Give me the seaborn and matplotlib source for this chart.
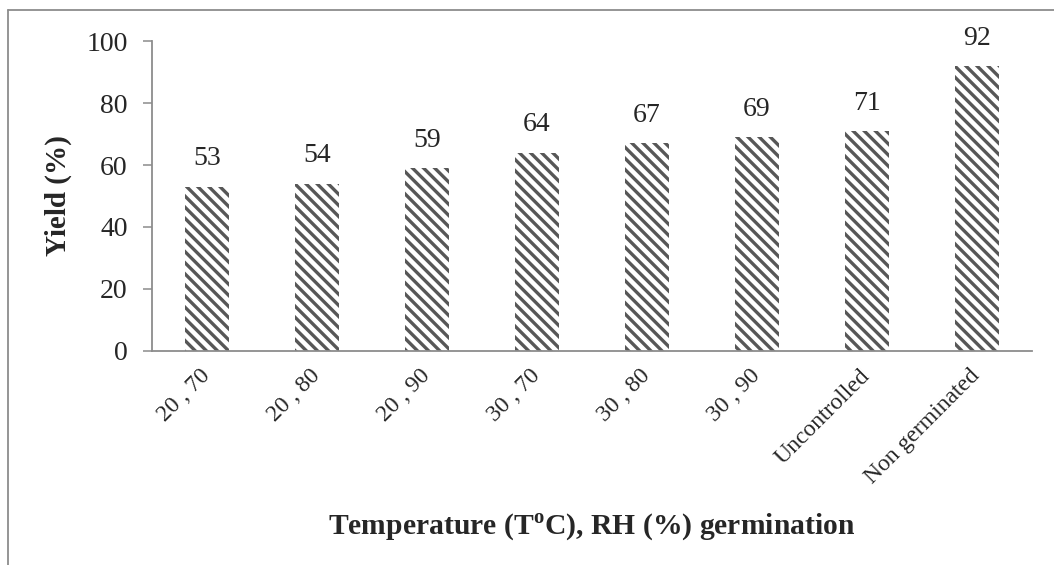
import matplotlib
matplotlib.use("Agg")
import matplotlib.pyplot as plt
import seaborn as sns
from matplotlib.lines import Line2D

# --- data ---
categories = ["20 , 70", "20 , 80", "20 , 90", "30 , 70", "30 , 80", "30 , 90",
              "Uncontrolled", "Non germinated"]
yield_pct = [53, 54, 59, 64, 67, 69, 71, 92]
y_ticks = [0, 20, 40, 60, 80, 100]

sns.set_style("white")
plt.rcParams["font.family"] = ["Liberation Serif", "DejaVu Serif"]
plt.rcParams["mathtext.fontset"] = "custom"
plt.rcParams["mathtext.rm"] = "Liberation Serif"
plt.rcParams["mathtext.bf"] = "Liberation Serif:bold"
plt.rcParams["hatch.linewidth"] = 2.4
plt.rcParams["hatch.color"] = "#575757"

spine_col = "#8c8c8c"

fig = plt.figure(figsize=(10.54, 5.65), dpi=100)
ax = fig.add_axes([0.1442, 0.3788, 0.8349, 0.5486])

sns.barplot(x=categories, y=yield_pct, color="white", width=0.4,
            edgecolor="#575757", linewidth=0, ax=ax)
for p in ax.patches:
    p.set_hatch("\\\\\\")
    p.set_linewidth(0)

# value labels above bars
for p, v in zip(ax.patches, yield_pct):
    ax.annotate(f"{v}", (p.get_x() + p.get_width() / 2, p.get_height()),
                xytext=(0, 11), textcoords="offset points",
                ha="center", va="bottom", fontsize=20)

ax.set_ylim(0, 100)
ax.set_xlim(-0.5, len(categories) - 0.5)
ax.set_yticks(y_ticks)
ax.tick_params(axis="y", left=True, length=6.5, width=1.1, color=spine_col,
               labelsize=20, pad=11)
ax.tick_params(axis="x", bottom=False, pad=12)
ax.set_xticks(range(len(categories)))
ax.set_xticklabels(categories, rotation=45, ha="right", va="center",
                   rotation_mode="anchor", fontsize=17)

for side in ["top", "right"]:
    ax.spines[side].set_visible(False)
for side in ["left", "bottom"]:
    ax.spines[side].set_color(spine_col)
    ax.spines[side].set_linewidth(1.3)

ax.set_ylabel("Yield (%)", fontsize=21, fontweight="bold")
ax.yaxis.set_label_coords(-0.091, 0.5)
ax.set_xlabel("Temperature (T$^{\\mathbf{o}}$C), RH (%) germination",
              fontsize=21.3, fontweight="bold")
ax.xaxis.set_label_coords(0.5, -0.516)

# outer chart-area frame (only top and left edges visible in the crop)
fig.add_artist(Line2D([8 / 1054, 1.0], [1 - 10 / 565, 1 - 10 / 565],
                      transform=fig.transFigure, color=spine_col, lw=1.3))
fig.add_artist(Line2D([8 / 1054, 8 / 1054], [0.0, 1 - 10 / 565],
                      transform=fig.transFigure, color=spine_col, lw=1.3))

fig.savefig("out.png", dpi=100, facecolor="white")
